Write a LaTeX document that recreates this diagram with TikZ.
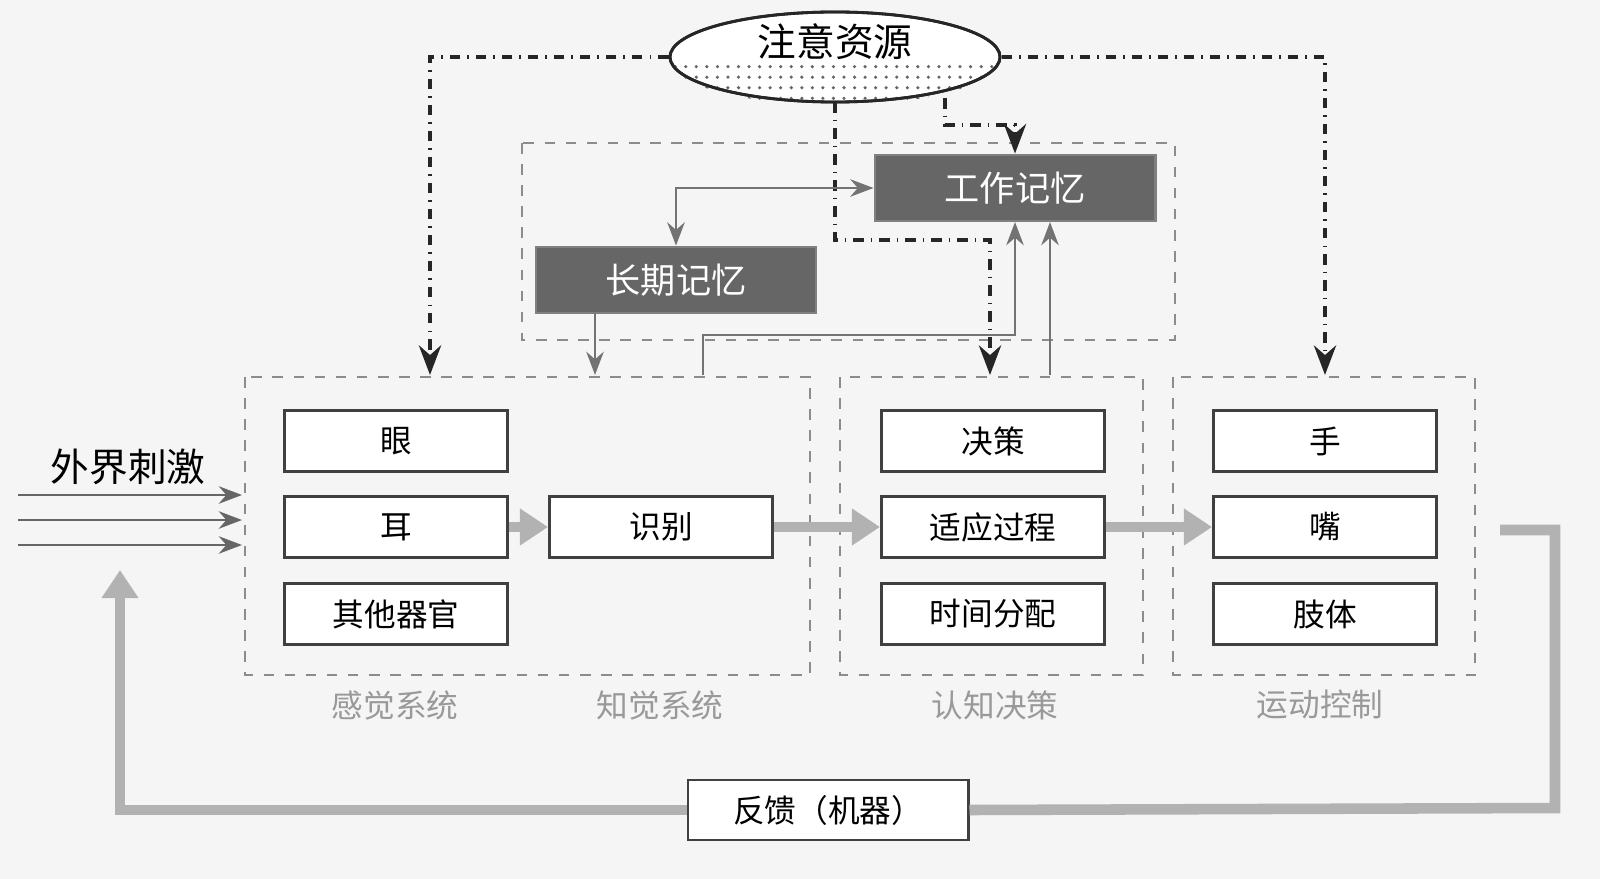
\documentclass[tikz,border=0pt]{standalone}
\usepackage{fontspec}
\setmainfont{Noto Sans CJK SC}
\usetikzlibrary{shapes.geometric,patterns,arrows.meta}
\tikzset{
  organ/.style={rectangle, draw=black!75, thick, fill=white, minimum width=2.23cm, minimum height=0.61cm, font=\fontsize{9}{10}\selectfont},
  memory/.style={rectangle, draw=black!50, thick, fill=black!60, text=white, minimum width=2.8cm, minimum height=0.66cm, font=\fontsize{10}{11}\selectfont},
  group/.style={dashed, draw=black!45},
  caption/.style={text=black!40, font=\fontsize{9}{10}\selectfont},
  attention/.style={dash dot, very thick, draw=black!85},
  thin link/.style={-{Stealth}, thick, draw=black!55},
  flow/.style={-{Triangle[length=8pt,width=10pt]}, line width=3pt, draw=black!30}
}
\begin{document}
\begin{tikzpicture}[x=0.01cm, y=-0.01cm]
    \useasboundingbox (0,0) rectangle (1600,879);
    \fill[black!4] (0,0) rectangle (1600,879);
    % groups
    \draw [group] (522,143) rectangle (1175,340);
    \draw [group] (245,377) rectangle (810,675);
    \draw [group] (840,377) rectangle (1143,675);
    \draw [group] (1173,377) rectangle (1475,675);
    % attention source
    \node (attn) [ellipse, thick, draw=black!85, fill=white, minimum width=3.3cm, minimum height=0.9cm] at (835,57) {};
    \fill[pattern=dots, pattern color=black!60] (670,60) arc[start angle=180, end angle=0, x radius=165, y radius=45] -- cycle;
    \draw[thick, black!85] (835,57) ellipse[x radius=165, y radius=45];
    \node (attnText) at (835,42) {\fontsize{11}{12}\selectfont 注意资源};
    % memory
    \node (wm) [memory] at (1015,188) {工作记忆};
    \node (ltm) [memory] at (676,280) {长期记忆};
    % organs
    \node (eye) [organ] at (396,441) {眼};
    \node (ear) [organ] at (396,527) {耳};
    \node (other) [organ] at (396,614) {其他器官};
    \node (recog) [organ] at (661,527) {识别};
    \node (decide) [organ] at (993,441) {决策};
    \node (adapt) [organ] at (993,527) {适应过程};
    \node (time) [organ] at (993,614) {时间分配};
    \node (hand) [organ] at (1325,441) {手};
    \node (mouth) [organ] at (1325,527) {嘴};
    \node (limb) [organ] at (1325,614) {肢体};
    % captions
    \node (c1) [caption] at (395,705) {感觉系统};
    \node (c2) [caption] at (660,705) {知觉系统};
    \node (c3) [caption] at (995,705) {认知决策};
    \node (c4) [caption] at (1320,705) {运动控制};
    \node (stim) [font=\fontsize{11}{12}\selectfont] at (128,467) {外界刺激};
    \node (fb) [rectangle, thick, draw=black!75, fill=white, minimum width=2.8cm, minimum height=0.6cm, font=\fontsize{9}{10}\selectfont] at (828,810) {反馈（机器）};
    \coordinate (senseTop) at (430,375);
    \coordinate (cogTop) at (990,375);
    \coordinate (motTop) at (1325,375);
    % attention lines
    \draw [attention, -{Stealth}] (attn.west) -| (senseTop);
    \draw [attention, -{Stealth}] (attn.east) -| (motTop);
    \draw [attention, -{Stealth}] (835,102) |- (990,240) -- (cogTop);
    \draw [attention, -{Stealth}] (945,98) |- (1015,125) -- (wm.north);
    % memory links
    \draw [thin link, {Stealth}-{Stealth}] (ltm.north) |- (wm.west);
    \draw [thin link] (595,313) -- (595,375);
    \draw [thin link] (703,375) |- (1015,335) -- (1015,222);
    \draw [thin link] (1050,375) -- (1050,222);
    % main flow
    \draw [flow] (ear.east) -- (recog.west);
    \draw [flow] (recog.east) -- (adapt.west);
    \draw [flow] (adapt.east) -- (mouth.west);
    \foreach \y in {495,520,545}
      \draw [thin link, draw=black!60] (18,\y) -- (242,\y);
    % feedback
    \draw [line width=3pt, draw=black!30] (1500,530) -| (1555,808) -- (fb.east);
    \draw [flow] (fb.west) -| (120,570);
\end{tikzpicture}
\end{document}
